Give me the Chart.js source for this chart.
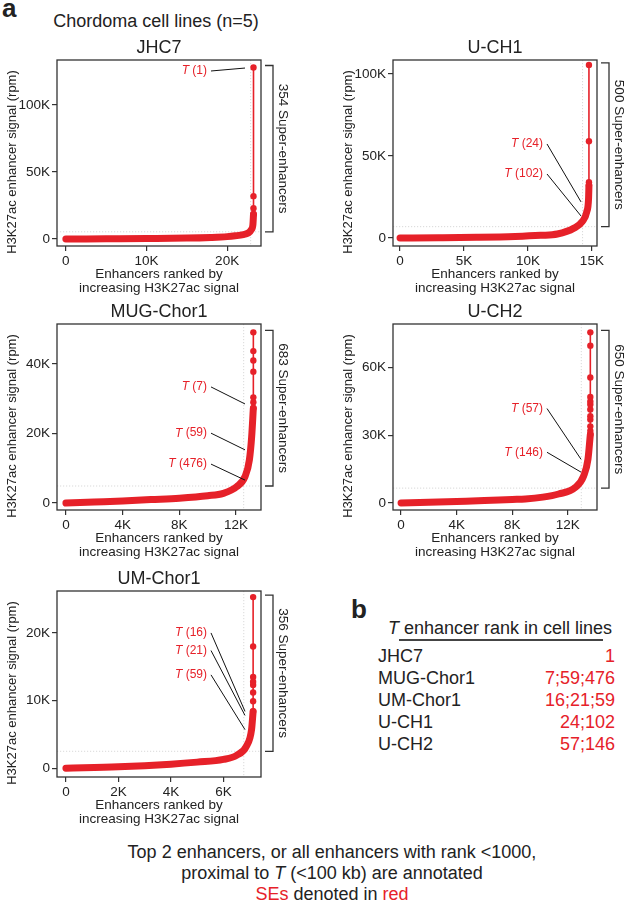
<!DOCTYPE html>
<html>
<head>
<meta charset="utf-8">
<title>Chordoma cell lines - H3K27ac super-enhancers</title>
<script src="https://cdn.jsdelivr.net/npm/chart.js@4.4.1/dist/chart.umd.min.js"></script>
<style>
  body { margin: 0; width: 625px; height: 900px; position: relative; overflow: hidden; background: #fff;
         font-family: 'Liberation Sans', Arial, Helvetica, sans-serif; color: #222; }
  canvas { position: absolute; }
  .txt { position: absolute; white-space: nowrap; line-height: 1; }
  .red { color: #e62129; }
</style>
</head>
<body>
<div class="txt" style="left:2px;top:-5px;font-size:26px;font-weight:bold">a</div>
<div class="txt" style="left:0;top:12px;width:312px;text-align:center;font-size:18px">Chordoma cell lines (n=5)</div>

<canvas id="jhc7" width="289" height="271" style="left:0;top:24px"></canvas>
<canvas id="uch1" width="289" height="271" style="left:336px;top:24px"></canvas>
<canvas id="mug" width="289" height="271" style="left:0;top:288px"></canvas>
<canvas id="uch2" width="289" height="271" style="left:336px;top:288px"></canvas>
<canvas id="umchor" width="289" height="271" style="left:0;top:555px"></canvas>

<div class="txt" style="left:351px;top:596px;font-size:26px;font-weight:bold">b</div>
<div class="txt" style="left:300px;top:619px;width:312px;text-align:right;font-size:18px"><i>T</i> enhancer rank in cell lines</div>
<div style="position:absolute;left:399px;top:639px;width:204px;height:1.5px;background:#444"></div>
<div id="rankTable"></div>

<div class="txt" style="left:32px;top:842px;width:600px;text-align:center;font-size:18px;line-height:21px">
  Top 2 enhancers, or all enhancers with rank &lt;1000,<br>
  proximal to <i>T</i> (&lt;100 kb) are annotated<br>
  <span class="red">SEs</span> denoted in <span class="red">red</span>
</div>

<script>
// ---- data: rank in thousands of enhancers, signal in thousands of rpm ----

// JHC7
const jhc7Rank = [0, 5, 10, 15, 18, 20, 21, 22, 22.6, 23.0, 23.2, 23.27];
const jhc7Signal = [0, 0.2, 0.4, 0.7, 1.2, 1.8, 2.4, 3.3, 4.5, 7, 11, 18.5];
const jhc7TopSignal = [23, 32, 128];
const jhc7SuperEnhancers = 354;
const jhc7Cutoff = 5.4;
const jhc7NoteLabels = ['(1)'];
const jhc7NoteSignal = [127.6];

// U-CH1
const uch1Rank = [0, 3, 6, 9, 11, 12.3, 13.6, 14.25, 14.6, 14.74, 14.77];
const uch1Signal = [0, 0.15, 0.4, 0.9, 1.6, 2.4, 6, 10, 16, 24, 32];
const uch1TopSignal = [34, 59, 105.5];
const uch1SuperEnhancers = 500;
const uch1Cutoff = 6.9;
const uch1NoteLabels = ['(24)', '(102)'];
const uch1NoteSignal = [22, 13.4];

// MUG-Chor1
const mugRank = [0, 2, 4, 6, 8, 10, 11.1, 12.05, 12.63, 12.94, 13.1, 13.22];
const mugSignal = [0, 0.3, 0.6, 1.0, 1.4, 2.1, 2.8, 4.7, 7.6, 12.4, 19, 27.3];
const mugTopSignal = [29, 30.4, 37.8, 41, 43.7, 49.1];
const mugSuperEnhancers = 683;
const mugCutoff = 4.9;
const mugNoteLabels = ['(7)', '(59)', '(476)'];
const mugNoteSignal = [28.5, 15.3, 6.6];

// U-CH2
const uch2Rank = [0, 2, 4, 6, 8, 8.94, 10.2, 11.34, 12.54, 13.14, 13.45, 13.62];
const uch2Signal = [0, 0.3, 0.7, 1.1, 1.6, 1.8, 2.6, 4, 6.9, 12, 19.4, 30.4];
const uch2TopSignal = [32, 34, 37, 38.5, 41.5, 43.7, 45, 47, 55.7, 69.8, 75.7];
const uch2SuperEnhancers = 650;
const uch2Cutoff = 6.6;
const uch2NoteLabels = ['(57)', '(146)'];
const uch2NoteSignal = [19.4, 13.7];

// UM-Chor1
const umRank = [0, 2, 4, 5, 6, 6.5, 6.88, 7.07, 7.13];
const umSignal = [0, 0.2, 0.6, 0.9, 1.3, 1.9, 3.3, 5.7, 8.4];
const umTopSignal = [9.9, 11.2, 12.3, 12.8, 13.5, 18, 25.3];
const umSuperEnhancers = 356;
const umCutoff = 2.5;
const umNoteLabels = ['(16)', '(21)', '(59)'];
const umNoteSignal = [8.4, 7.8, 5.7];

// panel b
const cellLines = ['JHC7', 'MUG-Chor1', 'UM-Chor1', 'U-CH1', 'U-CH2'];
const tEnhancerRanks = ['1', '7;59;476', '16;21;59', '24;102', '57;146'];

// ---- look ----
const RED = '#e62129';
const INK = '#222';
const FRAME = '#333';
const FONT = "'Liberation Sans', Arial, Helvetica, sans-serif";

function kLabel(v) { return v === 0 ? '0' : v + 'K'; }

// everything per panel that is not data (axis ranges, ticks, label placement)
const panelInfo = {
  jhc7: { title: 'JHC7', rank: jhc7Rank, signal: jhc7Signal, top: jhc7TopSignal, se: jhc7SuperEnhancers,
    cutoff: jhc7Cutoff, notes: jhc7NoteLabels, noteSignal: jhc7NoteSignal, labelY: [125.4],
    xMin: -1.1, xMax: 24.2, yMin: -5.2, yMax: 133.6, xTicks: [0, 10, 20], yTicks: [0, 50, 100] },
  uch1: { title: 'U-CH1', rank: uch1Rank, signal: uch1Signal, top: uch1TopSignal, se: uch1SuperEnhancers,
    cutoff: uch1Cutoff, notes: uch1NoteLabels, noteSignal: uch1NoteSignal, labelY: [57.3, 39],
    xMin: -0.55, xMax: 15.4, yMin: -4.9, yMax: 108.5, xTicks: [0, 5, 10, 15], yTicks: [0, 50, 100] },
  mug: { title: 'MUG-Chor1', rank: mugRank, signal: mugSignal, top: mugTopSignal, se: mugSuperEnhancers,
    cutoff: mugCutoff, notes: mugNoteLabels, noteSignal: mugNoteSignal, labelY: [33.4, 20.1, 11.2],
    xMin: -0.63, xMax: 13.76, yMin: -2, yMax: 51.5, xTicks: [0, 4, 8, 12], yTicks: [0, 20, 40] },
  uch2: { title: 'U-CH2', rank: uch2Rank, signal: uch2Signal, top: uch2TopSignal, se: uch2SuperEnhancers,
    cutoff: uch2Cutoff, notes: uch2NoteLabels, noteSignal: uch2NoteSignal, labelY: [41.9, 22.5],
    xMin: -0.58, xMax: 14.1, yMin: -3.1, yMax: 79.4, xTicks: [0, 4, 8, 12], yTicks: [0, 30, 60] },
  umchor: { title: 'UM-Chor1', rank: umRank, signal: umSignal, top: umTopSignal, se: umSuperEnhancers,
    cutoff: umCutoff, notes: umNoteLabels, noteSignal: umNoteSignal, labelY: [20, 17.4, 13.8],
    xMin: -0.34, xMax: 7.43, yMin: -1.3, yMax: 26.2, xTicks: [0, 2, 4, 6], yTicks: [0, 10, 20] }
};

// frame, cutoff lines, titles, bracket and T annotations
const panelDecor = {
  id: 'panelDecor',
  beforeDatasetsDraw(chart) {
    const info = panelInfo[chart.canvas.id];
    const { ctx, chartArea: a, scales: { x, y } } = chart;
    const lastRank = info.rank[info.rank.length - 1];
    const cx = x.getPixelForValue(lastRank - info.se / 1000);
    const cy = y.getPixelForValue(info.cutoff);
    ctx.save();
    ctx.strokeStyle = '#cfcfcf';
    ctx.lineWidth = 0.8;
    ctx.setLineDash([1.2, 1.8]);
    ctx.beginPath();
    ctx.moveTo(a.left, cy); ctx.lineTo(a.right, cy);
    ctx.moveTo(cx, a.top); ctx.lineTo(cx, a.bottom);
    ctx.stroke();
    ctx.restore();
  },
  afterDatasetsDraw(chart) {
    const info = panelInfo[chart.canvas.id];
    const { ctx, chartArea: a, scales: { y } } = chart;
    ctx.save();

    // box
    ctx.strokeStyle = FRAME;
    ctx.lineWidth = 1.3;
    ctx.strokeRect(a.left, a.top, a.right - a.left, a.bottom - a.top);

    // chart title
    ctx.fillStyle = INK;
    ctx.font = `18px ${FONT}`;
    ctx.textAlign = 'center';
    ctx.textBaseline = 'middle';
    ctx.fillText(info.title, (a.left + a.right) / 2, a.top - 12);

    // y axis title
    ctx.save();
    ctx.translate(12, (a.top + a.bottom) / 2 + 9);
    ctx.rotate(-Math.PI / 2);
    ctx.font = `13px ${FONT}`;
    ctx.fillText('H3K27ac enhancer signal (rpm)', 0, 0);
    ctx.restore();

    // super-enhancer bracket
    const bTop = y.getPixelForValue(Math.max(...info.top)) - 2;
    const bBot = y.getPixelForValue(info.cutoff);
    const bx = a.right + 12;
    ctx.strokeStyle = FRAME;
    ctx.lineWidth = 1.3;
    ctx.beginPath();
    ctx.moveTo(a.right + 4, bTop); ctx.lineTo(bx, bTop); ctx.lineTo(bx, bBot); ctx.lineTo(a.right + 4, bBot);
    ctx.stroke();
    ctx.save();
    ctx.translate(a.right + 22, (bTop + bBot) / 2);
    ctx.rotate(Math.PI / 2);
    ctx.font = `13.5px ${FONT}`;
    ctx.fillText(info.se + ' Super-enhancers', 0, 0);
    ctx.restore();

    // T annotations
    info.notes.forEach((label, i) => {
      const ty = y.getPixelForValue(info.labelY[i]);
      const vy = y.getPixelForValue(info.noteSignal[i]);
      const right = a.right - 54;
      const rest = ' ' + label;
      ctx.font = `12px ${FONT}`;
      const wR = ctx.measureText(rest).width;
      ctx.font = `italic 12px ${FONT}`;
      const wT = ctx.measureText('T').width;
      ctx.fillStyle = RED;
      ctx.textAlign = 'left';
      ctx.fillText('T', right - wR - wT, ty);
      ctx.font = `12px ${FONT}`;
      ctx.fillText(rest, right - wR, ty);
      ctx.strokeStyle = '#111';
      ctx.lineWidth = 1;
      ctx.beginPath();
      ctx.moveTo(a.right - 50, ty);
      ctx.lineTo(a.right - 16, vy);
      ctx.stroke();
    });
    ctx.restore();
  }
};

function makeChart(id) {
  const info = panelInfo[id];
  const lastRank = info.rank[info.rank.length - 1];
  const curve = info.rank.map((r, i) => ({ x: r, y: info.signal[i] }));
  const topPts = [{ x: lastRank, y: info.signal[info.signal.length - 1] }]
    .concat(info.top.map(v => ({ x: lastRank, y: v })));

  const axisCommon = {
    type: 'linear',
    border: { display: false },
    grid: { drawOnChartArea: false, drawTicks: true, tickLength: 5, color: FRAME, lineWidth: 1.2 },
    ticks: { color: INK, padding: 2, font: { family: FONT, size: 13.5 }, callback: kLabel }
  };

  new Chart(document.getElementById(id), {
    type: 'scatter',
    data: {
      datasets: [
        {
          data: curve, showLine: true, borderColor: RED, borderWidth: 7,
          borderCapStyle: 'round', borderJoinStyle: 'round',
          cubicInterpolationMode: 'monotone', pointRadius: 0
        },
        {
          data: topPts, showLine: true, borderColor: RED, borderWidth: 1.6,
          pointRadius: 3.2, pointBorderWidth: 0, pointBackgroundColor: RED
        }
      ]
    },
    options: {
      responsive: false,
      animation: false,
      events: [],
      layout: { padding: { top: 36, right: 28, left: 0, bottom: 0 } },
      plugins: { legend: { display: false }, tooltip: { enabled: false } },
      scales: {
        x: Object.assign({}, axisCommon, {
          min: info.xMin, max: info.xMax,
          afterBuildTicks: s => { s.ticks = info.xTicks.map(v => ({ value: v })); },
          afterFit: s => { s.height = 49; },
          title: {
            display: true, text: ['Enhancers ranked by', 'increasing H3K27ac signal'], color: INK,
            padding: { top: 0, bottom: 0 }, font: { family: FONT, size: 13.5, lineHeight: '14px' }
          }
        }),
        y: Object.assign({}, axisCommon, {
          min: info.yMin, max: info.yMax,
          afterBuildTicks: s => { s.ticks = info.yTicks.map(v => ({ value: v })); },
          afterFit: s => { s.width = 57; }
        })
      }
    },
    plugins: [panelDecor]
  });
}

['jhc7', 'uch1', 'mug', 'uch2', 'umchor'].forEach(makeChart);

// panel b table
const table = document.getElementById('rankTable');
const rowTops = [647, 669, 691, 713, 735];
cellLines.forEach((name, i) => {
  const lab = document.createElement('div');
  lab.className = 'txt';
  lab.style.cssText = `left:378px;top:${rowTops[i]}px;font-size:18px`;
  lab.textContent = name;
  table.appendChild(lab);
  const val = document.createElement('div');
  val.className = 'txt red';
  val.style.cssText = `left:415px;width:200px;text-align:right;top:${rowTops[i]}px;font-size:18px`;
  val.textContent = tEnhancerRanks[i];
  table.appendChild(val);
});
</script>
</body>
</html>
